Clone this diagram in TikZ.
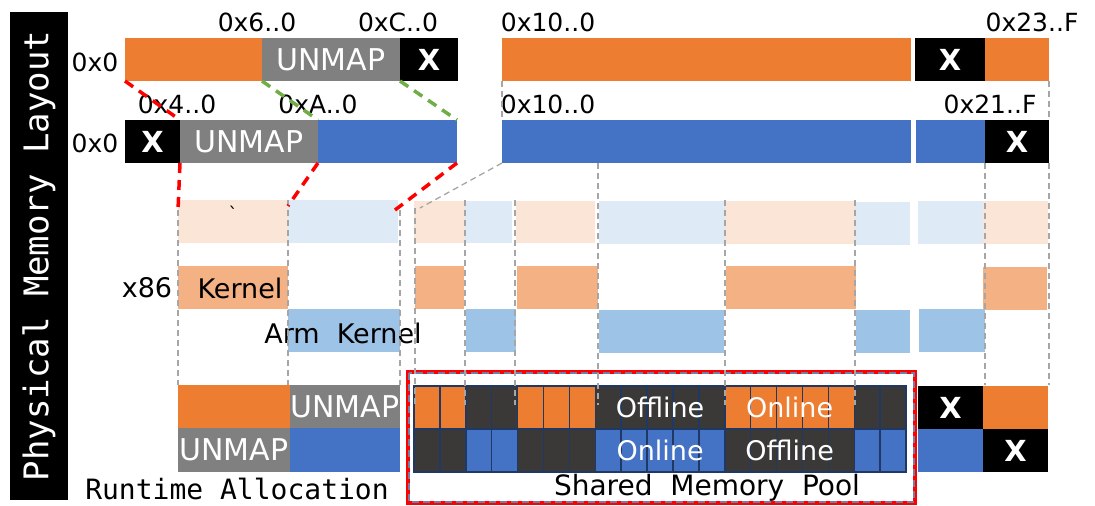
\documentclass[tikz,border=0pt]{standalone}
\usepackage{fontspec}
\setmainfont{DejaVu Sans}
\setmonofont{DejaVu Sans Mono}
\usetikzlibrary{calc}
\definecolor{cOr}{HTML}{ED7D31}
\definecolor{cBl}{HTML}{4472C4}
\definecolor{cGy}{HTML}{808080}
\definecolor{cFo}{HTML}{FBE5D6}
\definecolor{cFb}{HTML}{DEEBF7}
\definecolor{cKo}{HTML}{F4B183}
\definecolor{cKb}{HTML}{9DC3E6}
\definecolor{cDk}{HTML}{3B3838}
\definecolor{cNv}{HTML}{1F3864}
\definecolor{cGd}{HTML}{A6A6A6}
\definecolor{cGr}{HTML}{70AD47}
\definecolor{cSl}{HTML}{6F7FA8}
\newcommand\blk[7]{\node[blk,#6,minimum width={#4-#2},minimum height={#5-#3}] (#1) at (#2,#3) {#7};}
\newcommand\fs[1]{\fontsize{#1}{#1}\selectfont}
\begin{document}
\begin{tikzpicture}[x=1pt,y=-1pt,
  blk/.style={inner sep=0pt,outer sep=0pt,draw=none,anchor=north west,text=white},
  um/.style={font=\fs{30}},
  xx/.style={fill=black,font=\bfseries\fs{29}},
  lbl/.style={font=\fs{25},inner sep=0pt},
  guide/.style={draw=cGd,line width=1.5pt,dash pattern=on 6pt off 4pt},
  reddash/.style={draw=red,line width=3.5pt,dash pattern=on 10pt off 7pt},
  greendash/.style={draw=cGr,line width=3.5pt,dash pattern=on 10pt off 7pt},
  cell/.style={draw=cNv,line width=1.5pt,inner sep=0pt,outer sep=0pt,anchor=north west,minimum width=25.9,minimum height=43},
  pooltxt/.style={text=white,font=\fs{27},inner sep=0pt}]
\useasboundingbox (0,0) rectangle (1095,506);
% side bar
\node[blk,fill=black,minimum width=58,minimum height=488] (side) at (10,12) {};
\node[rotate=90,text=white,font=\ttfamily\fs{34}] (sidetxt) at (side.center) {Physical Memory Layout};
% row 1
\blk{r1a}{125}{38}{262}{81}{fill=cOr}{}
\blk{r1b}{262}{38}{400}{81}{fill=cGy,um}{UNMAP}
\blk{r1c}{400}{38}{458}{81}{xx}{X}
\blk{r1d}{502}{38}{911}{81}{fill=cOr}{}
\blk{r1e}{915}{38}{985}{81}{xx}{X}
\blk{r1f}{985}{38}{1049}{81}{fill=cOr}{}
% row 2
\blk{r2a}{125}{120}{180}{163}{xx}{X}
\blk{r2b}{180}{120}{318}{163}{fill=cGy,um}{UNMAP}
\blk{r2c}{318}{120}{457}{163}{fill=cBl}{}
\blk{r2d}{502}{120}{911}{163}{fill=cBl}{}
\blk{r2e}{916}{120}{985}{163}{fill=cBl}{}
\blk{r2f}{985}{120}{1049}{163}{xx}{X}
% labels
\node[lbl] (l00a) at (95,62) {0x0};
\node[lbl] (l00b) at (95,143) {0x0};
\node[lbl] (l60) at (257,22) {0x6..0};
\node[lbl] (lC0) at (398,22) {0xC..0};
\node[lbl] (l10a) at (548,22) {0x10..0};
\node[lbl] (l23) at (1032,22) {0x23..F};
\node[lbl] (l40) at (177,104) {0x4..0};
\node[lbl] (lA0) at (318,104) {0xA..0};
\node[lbl] (l10b) at (548,104) {0x10..0};
\node[lbl] (l21) at (990,104) {0x21..F};
% faint row
\blk{f1}{178}{200}{288}{243}{fill=cFo}{}
\blk{f2}{288}{200}{398}{243}{fill=cFb}{}
\blk{f3}{414}{201}{465}{243}{fill=cFo}{}
\blk{f4}{465}{201}{512}{243}{fill=cFb}{}
\blk{f5}{516}{201}{595}{243}{fill=cFo}{}
\blk{f6}{599}{201}{725}{244}{fill=cFb}{}
\blk{f7}{725}{201}{855}{244}{fill=cFo}{}
\blk{f8}{855}{202}{910}{245}{fill=cFb}{}
\blk{f9}{918}{201}{983}{244}{fill=cFb}{}
\blk{f10}{983}{201}{1048}{244}{fill=cFo}{}
\node[font=\fs{18},inner sep=0pt] (tick) at (233,213) {\textasciigrave};
% x86 kernel row
\blk{k1}{178}{266}{288}{309}{fill=cKo}{}
\blk{k2}{415}{266}{464}{309}{fill=cKo}{}
\blk{k3}{517}{266}{598}{309}{fill=cKo}{}
\blk{k4}{726}{266}{856}{309}{fill=cKo}{}
\blk{k5}{983}{267}{1047}{310}{fill=cKo}{}
\node[lbl,font=\fs{27}] (x86) at (147,288) {x86};
\node[lbl,font=\fs{27}] (kern) at (240,288) {Kernel};
% arm kernel row
\blk{a1}{288}{309}{400}{352}{fill=cKb}{}
\blk{a2}{466}{309}{516}{352}{fill=cKb}{}
\blk{a3}{599}{310}{724}{353}{fill=cKb}{}
\blk{a4}{856}{310}{910}{353}{fill=cKb}{}
\blk{a5}{919}{309}{985}{352}{fill=cKb}{}
\node[lbl,font=\fs{27}] (armk) at (343,333) {Arm\ \ Kernel};
% runtime rows
\blk{ra1}{178}{385}{290}{428}{fill=cOr}{}
\blk{ra2}{290}{385}{400}{428}{fill=cGy,um}{UNMAP}
\blk{rb1}{178}{428}{290}{472}{fill=cGy,um}{UNMAP}
\blk{rb2}{290}{428}{400}{472}{fill=cBl}{}
\blk{rc1}{918}{386}{983}{429}{xx}{X}
\blk{rc2}{983}{386}{1048}{429}{fill=cOr}{}
\blk{rd1}{918}{429}{983}{472}{fill=cBl}{}
\blk{rd2}{983}{429}{1048}{472}{xx}{X}
\node[font=\ttfamily\fs{28},inner sep=0pt] (rtl) at (237,489) {Runtime Allocation};
% guides
\draw[guide] (r1d.south west) -- (r2d.north west);
\draw[guide] (r1f.south east) -- (r2f.north east);
\foreach \x/\a/\b in {178/200/385,288/200/385,400/210/385,985/163/385,1049/163/385}
  \draw[guide] (\x,\a) -- (\x,\b);
% pool box
\node[blk,minimum width=507,minimum height=131] (pool) at (408,372) {};
\draw[draw=red,line width=4.5pt] (pool.north west) rectangle (pool.south east);
\draw[draw=cSl,line width=2pt,dash pattern=on 7pt off 4pt] ($(pool.north west)+(1,1)$) rectangle ($(pool.south east)+(-1,-1)$);
% pool cells
\foreach \c [count=\i from 0] in {cOr,cOr,cDk,cDk,cOr,cOr,cOr,cDk,cDk,cDk,cDk,cDk,cOr,cOr,cOr,cOr,cOr,cDk,cDk}
  \node[cell,fill=\c] (t\i) at ({414+25.9*\i},386) {};
\foreach \c [count=\i from 0] in {cDk,cDk,cBl,cBl,cDk,cDk,cDk,cBl,cBl,cBl,cBl,cBl,cDk,cDk,cDk,cDk,cDk,cBl,cBl}
  \node[cell,fill=\c] (b\i) at ({414+25.9*\i},429) {};
\draw[cNv,line width=1.5pt] (t0.north west) rectangle (b18.south east);
\foreach \x/\a/\b in {415/208/405,465/200/405,515/200/405,598/163/405,725/200/405,855/200/405}
  \draw[guide] (\x,\a) -- (\x,\b);
\node[pooltxt] (off1) at ($(t7.center)!0.5!(t11.center)$) {Offline};
\node[pooltxt] (on1) at ($(t12.center)!0.5!(t16.center)$) {Online};
\node[pooltxt] (on2) at ($(b7.center)!0.5!(b11.center)$) {Online};
\node[pooltxt] (off2) at ($(b12.center)!0.5!(b16.center)$) {Offline};
\node[font=\fs{28},inner sep=0pt] (smp) at (707,488) {Shared\ \ Memory\ \ Pool};
% connectors
\coordinate (gEnd) at (420,208);
\draw[guide,line width=1.3pt] (r2d.south west) -- (gEnd);
\draw[reddash] (r1a.south west) -- (r2b.north west);
\draw[reddash] (r2b.south west) -- ($(f1.north west)+(0,10)$);
\draw[reddash] (r2c.south west) -- ($(f1.north east)+(0,6)$);
\draw[reddash] (r2c.south east) -- ($(f2.north east)+(-3,10)$);
\draw[greendash] (r1b.south west) -- (r2c.north west);
\draw[greendash] (r1c.south west) -- (r2c.north east);
\end{tikzpicture}
\end{document}
